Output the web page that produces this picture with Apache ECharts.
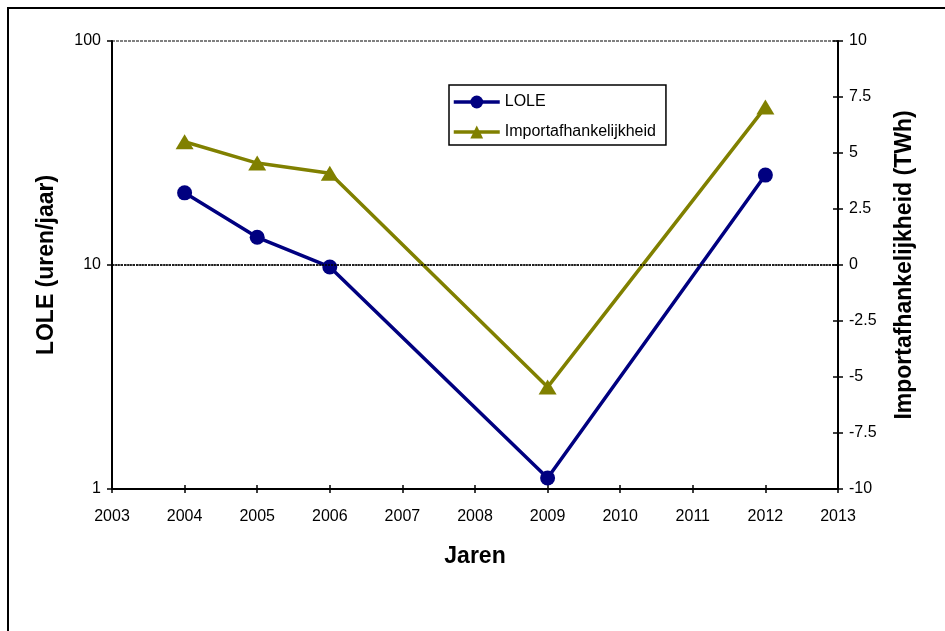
<!DOCTYPE html>
<html><head><meta charset="utf-8">
<script src="https://cdn.jsdelivr.net/npm/echarts@6/dist/echarts.min.js"></script>
<style>html,body{margin:0;padding:0;background:#fff}#c{width:945px;height:631px}</style>
</head><body><div id="c"></div>
<script>
const years = [2004, 2005, 2006, 2009, 2012];
const lole = [21, 13.3, 9.8, 1.12, 25.2];
const importDep = [5.5, 4.55, 4.1, -5.45, 7.05];
const leftTicks = [1, 10, 100];

const chart = echarts.init(document.getElementById('c'));
const F = 'Arial, "Liberation Sans", sans-serif';
const navy = '#000080', olive = '#808000';
chart.setOption({
  animation: false,
  backgroundColor: '#fff',
  graphic: [{type:'rect', shape:{x:8,y:8,width:1000,height:1000}, style:{fill:'none',stroke:'#000',lineWidth:2}, silent:true}],
  grid: {left:112, right:107, top:41, bottom:142},
  legend: {
    left: 449, top: 85, orient: 'vertical', borderColor:'#000', borderWidth:1.5,
    padding:[9, 10, 5, 3], itemGap:14, itemWidth:46, itemHeight:16,
    textStyle:{fontFamily:F, fontSize:16, color:'#000'},
    data:[
      {name:'LOLE', lineStyle:{width:3.5, color:navy}},
      {name:'Importafhankelijkheid', lineStyle:{width:3.5, color:olive}}
    ]
  },
  xAxis: [{
    type:'value', min:2003, max:2013, interval:1,
    name:'Jaren', nameLocation:'middle', nameGap:56,
    nameTextStyle:{fontFamily:F, fontSize:23, fontWeight:'bold', color:'#000'},
    axisLine:{show:true, onZero:false, lineStyle:{color:'#000', width:2}},
    axisTick:{show:true, length:4, lineStyle:{color:'#000', width:1.5}},
    axisLabel:{fontFamily:F, fontSize:16, color:'#000', margin:20, formatter: v => String(v)},
    splitLine:{show:false}
  },{
    type:'value', min:2003, max:2013, interval:1, position:'bottom',
    axisLine:{show:false, onZero:false}, axisLabel:{show:false}, splitLine:{show:false},
    axisTick:{show:true, inside:true, length:4, lineStyle:{color:'#000', width:1.5}}
  }],
  yAxis: [{
    type:'log', logBase:10, min:leftTicks[0], max:leftTicks[leftTicks.length-1],
    name:'LOLE (uren/jaar)', nameLocation:'middle', nameGap:54,
    nameTextStyle:{fontFamily:F, fontSize:23, fontWeight:'bold', color:'#000'},
    axisLine:{show:true, onZero:false, lineStyle:{color:'#000', width:2}},
    axisTick:{show:true, length:5, lineStyle:{color:'#000', width:1.5}},
    axisLabel:{fontFamily:F, fontSize:16, color:'#000', margin:11},
    minorTick:{show:false},
    splitLine:{show:true, lineStyle:{color:'#808080', type:[3,1], width:2}}
  },{
    type:'value', min:-10, max:10, interval:2.5, position:'right',
    name:'Importafhankelijkheid (TWh)', nameLocation:'middle', nameGap:55, nameRotate:90,
    nameTextStyle:{fontFamily:F, fontSize:23, fontWeight:'bold', color:'#000'},
    axisLine:{show:true, onZero:false, lineStyle:{color:'#000', width:2}},
    axisTick:{show:true, length:5, lineStyle:{color:'#000', width:1.5}},
    axisLabel:{fontFamily:F, fontSize:16, color:'#000', margin:11},
    splitLine:{show:false}
  },{
    type:'value', min:-10, max:10, interval:2.5, position:'right',
    axisLine:{show:false, onZero:false}, axisLabel:{show:false}, splitLine:{show:false},
    axisTick:{show:true, inside:true, length:5, lineStyle:{color:'#000', width:1.5}}
  }],
  series: [{
    name:'Importafhankelijkheid', type:'line', xAxisIndex:0, yAxisIndex:1,
    data: years.map((y,i)=>[y, importDep[i]]),
    symbol:'triangle', symbolSize:[18,15],
    lineStyle:{color:olive, width:3.5}, itemStyle:{color:olive},
    markLine:{silent:true, symbol:'none', label:{show:false},
      lineStyle:{color:'#000', type:[2,1], width:1.5}, data:[{yAxis:0}]}
  },{
    name:'LOLE', type:'line', xAxisIndex:0, yAxisIndex:0,
    data: years.map((y,i)=>[y, lole[i]]),
    symbol:'circle', symbolSize:15,
    lineStyle:{color:navy, width:3.5}, itemStyle:{color:navy}
  }]
});
</script></body></html>
